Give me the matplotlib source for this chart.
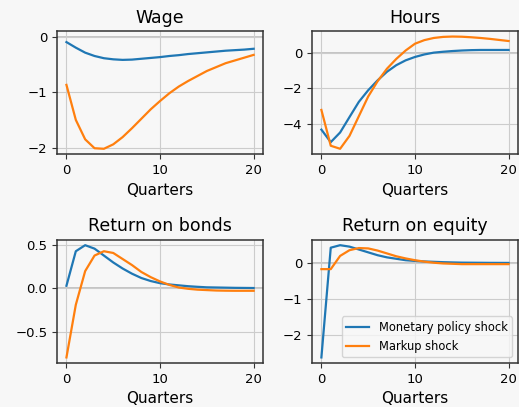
import numpy as np
import matplotlib
matplotlib.use("Agg")
import matplotlib.pyplot as plt

# ── Impulse responses ─────────────────────────────────────────────────────────
quarters = np.arange(21)

wage_mp = [-0.10, -0.20, -0.29, -0.35, -0.39, -0.41, -0.42, -0.415, -0.40, -0.385,
           -0.37, -0.35, -0.335, -0.315, -0.30, -0.285, -0.27, -0.255, -0.245, -0.235, -0.22]
wage_mk = [-0.87, -1.50, -1.85, -2.01, -2.02, -1.94, -1.81, -1.65, -1.48, -1.31,
           -1.16, -1.02, -0.90, -0.80, -0.71, -0.62, -0.55, -0.48, -0.43, -0.38, -0.33]

hours_mp = [-4.30, -5.00, -4.46, -3.60, -2.75, -2.10, -1.55, -1.07, -0.70, -0.43,
            -0.24, -0.10, 0.00, 0.05, 0.09, 0.12, 0.14, 0.15, 0.15, 0.15, 0.15]
hours_mk = [-3.20, -5.20, -5.37, -4.65, -3.55, -2.45, -1.60, -0.90, -0.35, 0.12,
            0.50, 0.70, 0.82, 0.88, 0.90, 0.89, 0.86, 0.82, 0.77, 0.71, 0.65]

bonds_mp = [0.03, 0.43, 0.50, 0.46, 0.38, 0.30, 0.23, 0.17, 0.12, 0.085,
            0.06, 0.045, 0.035, 0.025, 0.018, 0.012, 0.010, 0.008, 0.006, 0.005, 0.004]
bonds_mk = [-0.80, -0.19, 0.20, 0.38, 0.43, 0.41, 0.34, 0.27, 0.19, 0.13,
            0.08, 0.04, 0.01, -0.005, -0.015, -0.02, -0.025, -0.027, -0.028, -0.028, -0.028]

equity_mp = [-2.64, 0.43, 0.50, 0.46, 0.38, 0.30, 0.22, 0.16, 0.12, 0.08,
             0.06, 0.045, 0.035, 0.025, 0.018, 0.012, 0.010, 0.008, 0.006, 0.005, 0.004]
equity_mk = [-0.17, -0.17, 0.20, 0.36, 0.42, 0.41, 0.35, 0.27, 0.19, 0.13,
             0.08, 0.04, 0.01, -0.01, -0.02, -0.03, -0.03, -0.03, -0.03, -0.03, -0.03]

titles = ["Wage", "Hours", "Return on bonds", "Return on equity"]
series = [(wage_mp, wage_mk), (hours_mp, hours_mk),
          (bonds_mp, bonds_mk), (equity_mp, equity_mk)]
labels = ["Monetary policy shock", "Markup shock"]

# ── Plot ──────────────────────────────────────────────────────────────────────
BG = "#f7f7f7"
fig, axes = plt.subplots(2, 2, figsize=(5.19, 4.07), dpi=100)
fig.patch.set_facecolor(BG)
fig.subplots_adjust(left=0.110, right=0.998, top=0.924, bottom=0.108,
                    wspace=0.238, hspace=0.69)

for ax, title, (mp, mk) in zip(axes.flat, titles, series):
    ax.set_facecolor(BG)
    ax.axhline(0, color="#bbbbbb", lw=1.2, zorder=1)
    ax.plot(quarters, mp, color="#1f77b4", lw=1.6, label=labels[0])
    ax.plot(quarters, mk, color="#ff7f0e", lw=1.6, label=labels[1])
    ax.set_title(title, fontsize=12.5)
    ax.set_xlabel("Quarters", fontsize=11)
    ax.set_xticks([0, 10, 20])
    ax.tick_params(labelsize=9.5, color="#333333")
    ax.grid(True, color="#cccccc", lw=0.8)
    for s in ax.spines.values():
        s.set_color("#333333")
        s.set_linewidth(1.1)

axes[0, 0].set_yticks([0, -1, -2])
axes[0, 1].set_yticks([0, -2, -4])
axes[1, 0].set_yticks([0.5, 0.0, -0.5])
axes[1, 1].set_yticks([0, -1, -2])

axes[1, 1].legend(loc="lower right", fontsize=8.3, facecolor=BG, edgecolor="#cccccc")

plt.savefig("out.png", facecolor=BG)
